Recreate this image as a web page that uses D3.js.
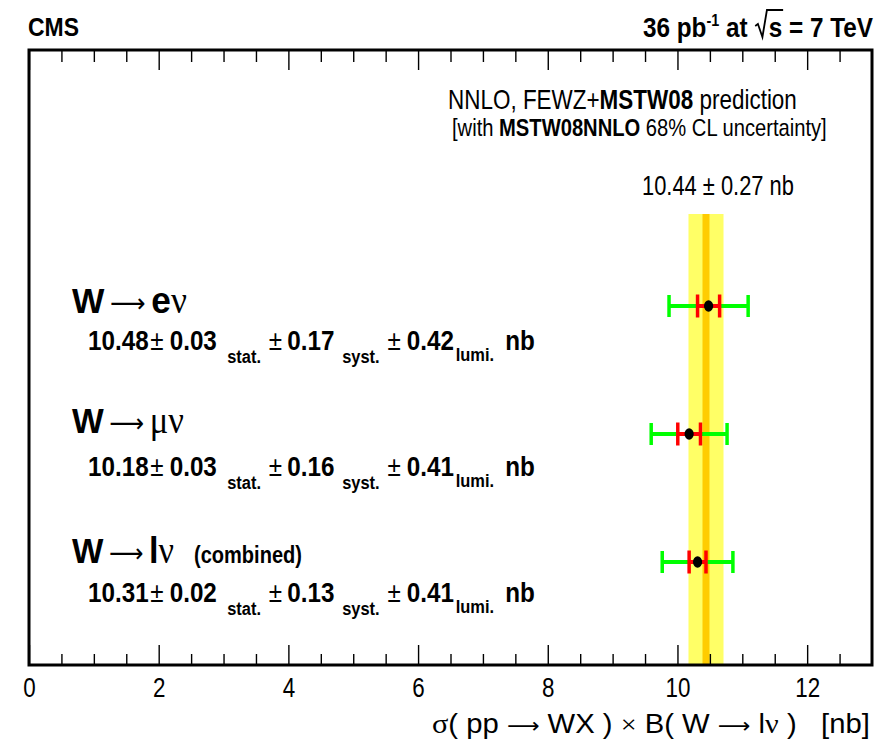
<!DOCTYPE html>
<html><head><meta charset="utf-8">
<script src="https://cdn.jsdelivr.net/npm/d3@7"></script>
<style>body{margin:0;background:#fff} svg{display:block} text{white-space:pre}</style>
</head><body>
<svg id="c" width="887" height="743"></svg>
<script>
// ---- data ----
const channels = ["e", "μ", "l"];
const centralValues = [10.48, 10.18, 10.31];
const statErrors = ["0.03", "0.03", "0.02"];
const systErrors = ["0.17", "0.16", "0.13"];
const lumiErrors = ["0.42", "0.41", "0.41"];
const innerErrors = [0.17, 0.175, 0.13];   // red bars (exp. uncertainty)
const outerErrors = [0.61, 0.585, 0.545];  // green bars (total)
const theoryValue = 10.44;
const theoryError = 0.27;
const majorTicks = [0, 2, 4, 6, 8, 10, 12];
const minorTicks = [0.5, 1, 1.5, 2.5, 3, 3.5, 4.5, 5, 5.5, 6.5, 7, 7.5, 8.5, 9, 9.5, 10.5, 11, 11.5, 12.5];

// ---- layout ----
const SANS = "'Liberation Sans', Arial, Helvetica, sans-serif";
const SERIF = "'Liberation Serif', 'DejaVu Serif', serif";
const SYM = "'DejaVu Sans', sans-serif";
const svg = d3.select("#c");
svg.append("rect").attr("width", 887).attr("height", 743).attr("fill", "#fff");
const frameTop = 50, frameBottom = 665;
const x = d3.scaleLinear().domain([0, 13]).range([29, 872]);
const y = d3.scalePoint().domain(channels).range([306, 562]);
const yNum = d3.scalePoint().domain(channels).range([350, 602]);
const titleBase = { "e": 313, "μ": 433, "l": 563 };
const titleEnd = { "e": 187, "μ": 184, "l": 174 };

function rich(parent, parts, px, py, target, anchor) {
  const g = parent.append("g");
  const t = g.append("text").attr("x", 0).attr("y", 0);
  parts.forEach(p => {
    const s = t.append("tspan").text(p.t)
      .attr("font-size", p.s).attr("font-weight", p.w || "normal")
      .attr("font-family", p.f || SANS).attr("fill", "#000");
    if (p.dy) s.attr("dy", p.dy);
    if (p.dx) s.attr("dx", p.dx);
  });
  const bb = t.node().getBBox();
  const k = target / bb.width;
  let tx = anchor === "end" ? px - target : anchor === "middle" ? px - target / 2 : px;
  tx -= bb.x * k;
  g.attr("transform", `translate(${tx},${py}) scale(${k},1)`);
  return { g, t, k };
}

// theory band
svg.append("rect")
  .attr("x", x(theoryValue - theoryError)).attr("width", x(theoryValue + theoryError) - x(theoryValue - theoryError))
  .attr("y", 214).attr("height", frameBottom - 214).attr("fill", "#ffff66");
svg.append("line")
  .attr("x1", x(theoryValue)).attr("x2", x(theoryValue)).attr("y1", 214).attr("y2", frameBottom)
  .attr("stroke", "#ffcc00").attr("stroke-width", 7);

// axes ticks
function styleAxis(g) {
  g.select(".domain").remove();
  g.selectAll(".tick line").attr("stroke", "#000").attr("stroke-width", 1.4);
}
const gb = svg.append("g").attr("transform", `translate(0,${frameBottom})`)
  .call(d3.axisBottom(x).tickValues(majorTicks).tickSize(-20).tickPadding(12).tickFormat(d3.format("d")));
styleAxis(gb);
gb.selectAll(".tick text").attr("font-size", 28).attr("font-family", SANS).attr("fill", "#000")
  .attr("transform", "scale(0.8,1)");
const gbm = svg.append("g").attr("transform", `translate(0,${frameBottom})`)
  .call(d3.axisBottom(x).tickValues(minorTicks).tickSize(-11).tickFormat(""));
styleAxis(gbm);
const gt = svg.append("g").attr("transform", `translate(0,${frameTop})`)
  .call(d3.axisTop(x).tickValues(majorTicks).tickSize(-20).tickFormat(""));
styleAxis(gt);
const gtm = svg.append("g").attr("transform", `translate(0,${frameTop})`)
  .call(d3.axisTop(x).tickValues(minorTicks).tickSize(-12).tickFormat(""));
styleAxis(gtm);

// frame
svg.append("rect").attr("x", x(0)).attr("y", frameTop).attr("width", x(13) - x(0)).attr("height", frameBottom - frameTop)
  .attr("fill", "none").attr("stroke", "#000").attr("stroke-width", 3);

// error bars
const rows = channels.map((c, i) => ({ c, v: centralValues[i], inner: innerErrors[i], outer: outerErrors[i] }));
function bar(sel, err, color, capH) {
  sel.append("line").attr("x1", d => x(d.v - d[err])).attr("x2", d => x(d.v + d[err]))
    .attr("y1", d => y(d.c)).attr("y2", d => y(d.c)).attr("stroke", color).attr("stroke-width", 4);
  [-1, 1].forEach(s => sel.append("line")
    .attr("x1", d => x(d.v + s * d[err])).attr("x2", d => x(d.v + s * d[err]))
    .attr("y1", d => y(d.c) - capH).attr("y2", d => y(d.c) + capH)
    .attr("stroke", color).attr("stroke-width", 3.5));
}
const gr = svg.append("g").selectAll("g").data(rows).join("g");
bar(gr, "outer", "#00ff00", 11);
bar(gr, "inner", "#ff0000", 11.5);
gr.append("ellipse").attr("cx", d => x(d.v)).attr("cy", d => y(d.c)).attr("rx", 4.6).attr("ry", 5.8).attr("fill", "#000");

// header texts
rich(svg, [{ t: "CMS", s: 25, w: "bold" }], 28, 36, 51, "start");
const hdr = rich(svg, [
  { t: "36 pb", s: 27, w: "bold" },
  { t: "-1", s: 16, w: "bold", dy: -11 },
  { t: " at ", s: 27, w: "bold", dy: 11 },
  { t: "s", s: 27, w: "bold", dx: 16 },
  { t: " = 7 TeV", s: 27, w: "bold" }
], 873, 37, 230, "end");
{
  const n = hdr.t.node();
  const e = n.getExtentOfChar("36 pb-1 at ".length);
  const sx = e.x;
  hdr.g.append("path")
    .attr("d", `M${sx - 15},-11 L${sx - 12},-13 L${sx - 7},0 L${sx - 2},-27 L${sx + e.width + 1},-27`)
    .attr("fill", "none").attr("stroke", "#000").attr("stroke-width", 2);
}

rich(svg, [
  { t: "NNLO, FEWZ+", s: 28 }, { t: "MSTW08", s: 28, w: "bold" }, { t: " prediction", s: 28 }
], 448, 109, 349, "start");
rich(svg, [
  { t: "[with ", s: 24 }, { t: "MSTW08NNLO", s: 24, w: "bold" }, { t: " 68% CL uncertainty]", s: 24 }
], 452, 136, 375, "start");
rich(svg, [
  { t: theoryValue.toFixed(2), s: 28 }, { t: " ± ", s: 28 }, { t: theoryError.toFixed(2) + " nb", s: 28 }
], 642, 195, 152, "start");

// channel labels
channels.forEach((c, i) => {
  const yb = titleBase[c];
  const lep = c === "e" || c === "l"
    ? { t: c, s: 37, w: "bold", dx: 6 }
    : { t: c, s: 37, f: SERIF, dx: 6 };
  rich(svg, [
    { t: "W", s: 36, w: "bold" },
    { t: "⟶", s: 26, f: SYM, dx: 6, dy: -1 },
    Object.assign(lep, { dy: 1 }),
    { t: "ν", s: 37, f: SERIF }
  ], 72, yb, titleEnd[c] - 72, "start");
  if (c === "l") rich(svg, [{ t: "(combined)", s: 24, w: "bold" }], 194, yb, 108, "start");

  const nb = yNum(c);
  rich(svg, [
    { t: centralValues[i].toFixed(2), s: 28, w: "bold" },
    { t: "±", s: 28, dx: 2 },
    { t: statErrors[i], s: 28, w: "bold", dx: 7 },
    { t: "stat.", s: 19, w: "bold", dx: 12, dy: 13 },
    { t: "±", s: 28, dx: 9, dy: -13 },
    { t: systErrors[i], s: 28, w: "bold", dx: 6 },
    { t: "syst.", s: 19, w: "bold", dx: 9, dy: 13 },
    { t: "±", s: 28, dx: 9, dy: -13 },
    { t: lumiErrors[i], s: 28, w: "bold", dx: 7 },
    { t: "lumi.", s: 19, w: "bold", dx: 2, dy: 11 },
    { t: "nb", s: 28, w: "bold", dx: 13, dy: -11 }
  ], 88, nb, 447, "start");
});

// x-axis title
rich(svg, [
  { t: "σ", s: 28, f: SERIF },
  { t: "( pp ", s: 27 },
  { t: "⟶", s: 21, f: SYM },
  { t: " WX ) ", s: 27 },
  { t: "×", s: 26, f: SERIF },
  { t: " B( W ", s: 27 },
  { t: "⟶", s: 21, f: SYM },
  { t: " l", s: 27 },
  { t: "ν", s: 28, f: SERIF },
  { t: " )   [nb]", s: 27 }
], 870, 733, 438, "end");
</script>
</body></html>
